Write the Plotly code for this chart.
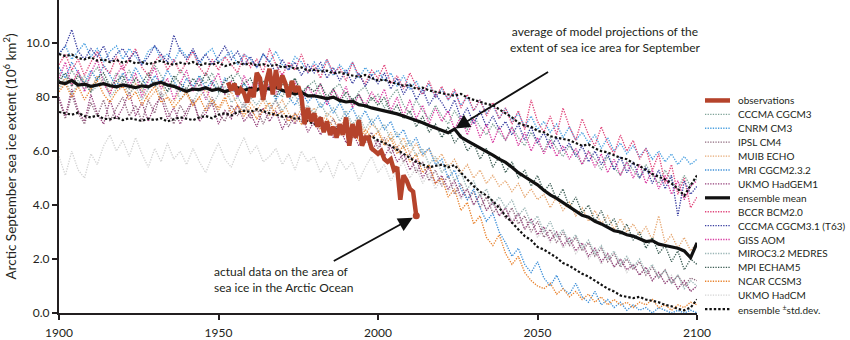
import plotly.graph_objects as go

# ---------------- data ----------------
model_years = list(range(1900, 2101, 2))

cccma_cgcm3 = [8.9, 8.5, 9.0, 8.6, 8.3, 8.8, 9.1, 8.7, 8.4, 8.9,
               8.6, 9.0, 8.5, 8.2, 8.7, 9.2, 8.8, 8.4, 8.6, 9.0,
               8.7, 8.3, 8.8, 8.5, 8.9, 8.4, 8.1, 8.6, 8.9, 8.5,
               8.2, 8.7, 8.4, 8.8, 8.3, 8.0, 8.5, 8.7, 8.2, 8.4,
               8.6, 8.1, 7.8, 8.3, 8.5, 8.0, 7.7, 8.2, 8.4, 7.9,
               8.1, 7.6, 8.0, 8.3, 7.7, 7.4, 7.9, 7.5, 7.2, 7.7,
               7.3, 7.0, 7.5, 7.1, 6.8, 7.3, 6.9, 6.6, 7.0, 6.7,
               6.4, 6.9, 6.5, 6.2, 6.7, 6.3, 6.0, 6.5, 6.1, 5.8,
               6.2, 5.9, 5.5, 6.0, 5.7, 5.3, 5.8, 5.4, 5.1, 5.6,
               5.3, 5.0, 5.5, 5.1, 4.8, 5.3, 4.9, 4.6, 5.1, 4.7,
               5.0]
cnrm_cm3 = [9.6, 9.9, 9.4, 9.7, 10.0, 9.5, 9.8, 9.3, 9.7, 9.9,
            9.4, 9.8, 9.5, 9.2, 9.7, 9.9, 9.4, 9.6, 9.3, 9.8,
            9.5, 9.7, 9.2, 9.6, 9.8, 9.3, 9.5, 9.7, 9.2, 9.6,
            9.4, 9.1, 9.6, 9.3, 9.7, 9.2, 9.0, 9.5, 9.3, 8.9,
            9.3, 9.0, 9.4, 8.8, 9.2, 8.9, 9.3, 8.7, 9.1, 8.8,
            9.0, 8.6, 8.9, 8.4, 8.8, 8.3, 8.6, 8.1, 8.5, 8.0,
            8.3, 7.9, 8.2, 7.7, 8.0, 7.5, 7.9, 7.4, 7.7, 7.2,
            7.6, 7.1, 7.4, 6.9, 7.3, 6.8, 7.1, 6.7, 7.0, 6.5,
            6.9, 6.4, 6.7, 6.3, 6.6, 6.1, 6.5, 6.0, 6.3, 5.9,
            6.2, 5.8, 6.1, 5.7, 6.0, 5.6, 5.9, 5.5, 5.8, 5.5,
            5.7]
ipsl_cm4 = [7.9, 7.2, 8.1, 7.4, 7.0, 7.8, 7.3, 7.9, 7.1, 7.6,
            8.0, 7.3, 7.7, 7.1, 7.9, 7.4, 8.2, 7.5, 7.0, 7.7,
            7.3, 7.9, 7.2, 7.6, 8.0, 7.4, 7.1, 7.7, 7.3, 7.8,
            7.2, 7.6, 7.0, 7.5, 7.9, 7.3, 6.9, 7.4, 7.1, 7.6,
            7.0, 7.3, 6.8, 7.2, 6.6, 7.0, 6.5, 6.9, 6.3, 6.7,
            6.1, 6.5, 5.9, 6.2, 5.6, 5.9, 5.2, 5.6, 4.9, 5.3,
            4.7, 5.1, 4.4, 4.8, 4.2, 4.5, 3.9, 4.3, 3.7, 4.0,
            3.5, 3.9, 3.3, 3.6, 3.0, 3.4, 2.8, 3.1, 2.6, 3.0,
            2.5, 2.8, 2.3, 2.6, 2.1, 2.4, 1.9, 2.2, 1.7, 2.0,
            1.6, 1.9, 1.4, 1.7, 1.3, 1.6, 1.1, 1.4, 1.0, 1.3,
            1.2]
muib_echo = [8.4, 8.7, 8.5, 8.9, 8.6, 8.3, 8.8, 8.5, 8.2, 8.6,
             8.4, 8.1, 8.5, 8.3, 7.9, 8.2, 8.5, 8.0, 7.8, 8.3,
             8.1, 7.7, 8.0, 8.3, 7.8, 7.5, 7.9, 8.2, 7.7, 7.4,
             7.8, 7.5, 7.9, 7.3, 7.6, 7.9, 7.4, 7.1, 7.6, 7.3,
             7.6, 7.0, 7.4, 7.2, 6.8, 7.3, 6.9, 7.2, 6.6, 7.0,
             6.8, 6.3, 6.7, 6.1, 6.5, 5.9, 6.3, 5.8, 6.1, 5.6,
             5.9, 5.4, 5.7, 5.2, 5.5, 5.0, 5.3, 4.8, 5.1, 4.7,
             4.9, 4.5, 4.8, 4.3, 4.6, 4.2, 4.4, 3.9, 4.3, 3.8,
             4.1, 3.6, 3.9, 3.4, 3.8, 3.3, 3.6, 3.1, 3.5, 3.0,
             3.3, 2.9, 3.2, 2.7, 3.6, 2.6, 2.9, 2.4, 2.8, 2.3,
             2.6]
mri_cgcm232 = [9.1, 8.7, 9.3, 8.9, 8.5, 9.0, 8.6, 9.2, 8.8, 8.4,
               8.9, 8.6, 9.1, 8.7, 8.3, 8.8, 8.5, 9.0, 8.6, 8.2,
               8.7, 8.4, 8.8, 8.3, 8.6, 8.2, 8.7, 8.4, 8.0, 8.5,
               8.2, 8.6, 8.1, 8.4, 7.9, 8.3, 8.0, 7.7, 8.2, 7.8,
               8.1, 7.6, 7.9, 7.4, 7.8, 7.3, 7.6, 7.1, 7.5, 7.0,
               7.3, 6.8, 7.1, 6.5, 6.8, 6.2, 6.5, 5.9, 6.1, 5.5,
               5.7, 5.0, 5.3, 4.6, 4.2, 4.6, 3.9, 3.4, 3.7, 3.0,
               2.6, 2.1, 2.4, 1.8, 1.5, 1.9, 1.3, 1.0, 1.4, 0.9,
               0.7, 1.1, 0.6, 0.4, 0.8, 0.3, 0.5, 0.2, 0.4, 0.1,
               0.3, 0.1, 0.2, 0.0, 0.2, 0.1, 0.0, 0.1, 0.0, 0.1,
               0.0]
ukmo_hadgem1 = [8.0, 7.3, 8.3, 7.5, 7.1, 8.1, 7.4, 7.0, 7.9, 7.2,
                7.6, 8.2, 7.3, 7.8, 7.1, 7.7, 8.0, 7.2, 7.6, 7.0,
                7.5, 7.9, 7.1, 7.4, 7.8, 7.0, 7.5, 7.2, 7.7, 7.1,
                7.4, 6.9, 7.6, 7.1, 7.5, 6.8, 7.3, 7.0, 7.4, 6.7,
                7.1, 6.6, 7.0, 6.5, 6.9, 6.3, 6.7, 6.2, 6.6, 6.0,
                6.4, 5.8, 6.2, 5.6, 5.9, 5.3, 5.7, 5.0, 5.4, 4.8,
                5.1, 4.6, 4.9, 4.3, 4.6, 4.0, 4.4, 3.8, 4.1, 3.6,
                3.9, 3.3, 3.7, 3.1, 3.5, 2.9, 3.2, 2.7, 3.0, 2.5,
                2.8, 2.3, 2.6, 2.1, 2.4, 1.9, 2.2, 1.7, 2.0, 1.6,
                1.8, 1.4, 1.7, 1.2, 1.5, 1.1, 1.3, 0.9, 1.2, 0.8,
                1.0]
bccr_bcm20 = [9.2, 9.6, 9.0, 9.4, 8.8, 9.3, 9.7, 9.1, 8.9, 9.5,
              9.0, 9.4, 9.8, 9.1, 8.8, 9.3, 9.6, 9.0, 9.4, 8.9,
              9.3, 9.7, 9.1, 8.8, 9.4, 9.0, 9.5, 9.2, 8.9, 9.6,
              9.1, 9.4, 8.9, 9.8, 9.2, 8.8, 9.3, 9.0, 9.6, 8.9,
              9.2, 8.7, 9.4, 8.9, 9.1, 8.6, 9.3, 8.8, 8.5, 9.0,
              8.7, 9.2, 8.5, 8.8, 8.3, 8.9, 8.4, 8.1, 8.6, 8.0,
              8.4, 7.9, 8.3, 7.6, 8.1, 7.5, 7.9, 7.3, 7.8, 7.2,
              7.6, 7.0, 7.5, 6.8, 7.9, 7.1, 6.7, 7.3, 6.6, 7.6,
              6.9, 6.4, 7.2, 6.6, 6.2, 6.9, 6.3, 5.9, 6.6, 6.0,
              6.4, 5.7, 6.1, 5.3, 5.9, 4.8, 5.5, 4.4, 5.0, 3.9,
              4.3]
cccma_t63 = [9.6, 9.9, 10.5, 9.7, 9.4, 9.8, 9.5, 9.9, 9.3, 9.6,
             9.8, 9.4, 9.7, 9.2, 9.5, 9.9, 9.6, 9.3, 10.3, 9.7,
             9.4, 9.8, 9.3, 9.6, 9.2, 9.5, 9.9, 9.4, 9.7, 9.2,
             9.5, 9.1, 9.6, 9.3, 8.9, 9.4, 9.0, 9.3, 8.8, 9.2,
             8.9, 9.3, 8.7, 9.1, 8.6, 9.0, 8.5, 8.9, 8.4, 8.8,
             8.5, 8.9, 8.3, 8.7, 8.1, 8.5, 7.9, 8.3, 7.7, 8.1,
             7.8, 7.4, 7.9, 7.2, 7.6, 7.0, 7.5, 6.9, 7.3, 6.8,
             7.1, 6.6, 7.0, 6.4, 6.9, 6.3, 6.7, 6.1, 6.5, 6.0,
             6.3, 5.8, 6.2, 5.6, 6.0, 5.5, 5.9, 5.3, 5.8, 5.2,
             5.6, 5.0, 5.4, 4.8, 5.3, 4.6, 5.1, 3.6, 4.9, 4.4,
             4.7]
giss_aom = [8.7, 9.3, 8.4, 9.0, 8.2, 8.9, 9.4, 8.5, 8.1, 8.8,
            9.2, 8.4, 8.9, 8.0, 8.6, 9.1, 8.3, 8.7, 7.9, 8.5,
            9.0, 8.2, 8.7, 7.9, 8.5, 8.9, 8.1, 8.6, 8.0, 8.8,
            8.3, 8.7, 7.9, 8.5, 8.1, 8.9, 8.2, 8.6, 7.8, 8.4,
            8.0, 8.5, 7.7, 8.3, 7.9, 8.4, 7.6, 8.1, 7.7, 8.2,
            7.8, 8.3, 7.5, 8.0, 7.3, 7.9, 7.2, 7.7, 7.0, 7.6,
            7.1, 7.5, 6.8, 7.3, 6.6, 7.2, 6.5, 7.0, 6.3, 6.9,
            6.4, 6.9, 6.2, 6.7, 6.0, 6.5, 5.9, 6.4, 5.8, 6.2,
            5.7, 6.1, 5.5, 6.0, 5.4, 5.9, 5.2, 5.7, 5.1, 5.6,
            5.0, 5.5, 4.8, 5.3, 4.6, 5.1, 4.4, 4.9, 4.2, 4.7,
            4.9]
miroc32_medres = [8.3, 8.6, 8.1, 8.5, 8.8, 8.2, 8.4, 8.7, 8.0, 8.3,
                  8.6, 8.1, 8.4, 7.9, 8.3, 8.6, 8.0, 8.2, 8.5, 7.9,
                  8.2, 7.8, 8.3, 8.0, 7.7, 8.1, 8.4, 7.8, 8.0, 7.6,
                  8.0, 7.7, 8.1, 7.6, 7.9, 7.5, 7.8, 8.1, 7.5, 7.7,
                  7.4, 7.8, 7.3, 7.6, 7.1, 7.5, 7.0, 7.3, 6.8, 7.2,
                  6.7, 7.0, 6.4, 6.7, 6.1, 6.4, 5.8, 6.1, 5.5, 5.8,
                  5.2, 5.5, 4.9, 5.2, 4.6, 4.9, 4.3, 4.6, 4.0, 4.3,
                  3.9, 4.2, 3.6, 3.9, 3.3, 3.6, 3.0, 3.4, 2.8, 3.1,
                  2.6, 2.9, 2.4, 2.7, 2.2, 2.5, 2.0, 2.3, 1.8, 2.1,
                  1.7, 2.0, 1.5, 1.8, 1.3, 1.6, 1.1, 1.4, 0.9, 1.2,
                  1.0]
mpi_echam5 = [8.6, 8.9, 8.4, 8.8, 8.5, 8.2, 8.7, 8.9, 8.4, 8.6,
              8.8, 8.3, 8.7, 8.5, 8.9, 8.4, 8.6, 8.2, 8.8, 8.5,
              8.3, 8.7, 8.4, 8.9, 8.5, 8.2, 8.6, 8.8, 8.3, 8.5,
              8.7, 8.2, 8.6, 8.4, 8.0, 8.5, 8.3, 8.7, 8.1, 8.4,
              8.2, 8.5, 8.0, 8.3, 7.8, 8.2, 7.9, 8.1, 7.6, 8.0,
              7.7, 8.0, 7.4, 7.7, 7.2, 7.5, 6.9, 7.3, 6.7, 7.0,
              6.5, 6.9, 6.3, 6.6, 6.0, 6.3, 5.7, 6.1, 5.4, 5.8,
              5.2, 5.6, 5.0, 5.3, 4.7, 5.1, 4.5, 4.8, 4.2, 4.6,
              3.9, 4.3, 3.7, 4.0, 3.4, 3.8, 3.2, 3.5, 2.9, 3.3,
              2.7, 3.0, 2.4, 2.8, 2.2, 2.5, 1.9, 2.3, 1.6, 2.0,
              1.8]
ncar_ccsm3 = [8.2, 8.5, 8.0, 8.4, 7.9, 8.3, 8.6, 8.1, 7.8, 8.2,
              8.4, 7.9, 8.2, 7.7, 8.1, 8.4, 7.8, 8.0, 7.6, 7.9,
              8.2, 7.7, 8.0, 7.5, 7.9, 7.6, 8.0, 7.4, 7.7, 7.3,
              7.6, 7.2, 7.5, 7.8, 7.3, 7.5, 7.1, 7.4, 7.0, 7.3,
              7.1, 6.8, 7.2, 6.9, 6.6, 7.0, 6.7, 6.4, 6.8, 6.5,
              6.7, 6.2, 6.5, 5.9, 6.2, 5.6, 5.9, 5.2, 5.5, 4.8,
              5.0, 4.3, 4.6, 3.8, 4.1, 3.3, 3.6, 2.8, 2.5, 2.9,
              2.2, 1.8, 2.1, 1.5, 1.2, 1.0, 0.9, 1.1, 0.7, 0.9,
              0.6, 0.8, 0.5, 0.7, 0.4, 0.6, 0.3, 0.5, 0.3, 0.4,
              0.2, 0.4, 0.3, 0.5, 0.2, 0.3, 0.1, 0.3, 0.2, 0.4,
              0.3]
ukmo_hadcm = [5.8, 5.1, 6.0, 5.3, 5.0, 5.9, 5.5, 6.2, 6.6, 6.0,
              6.4, 5.8, 6.5, 5.9, 5.4, 6.1, 5.6, 6.3, 5.7, 6.0,
              5.5, 6.1, 5.6, 5.2, 5.8, 6.3, 5.7, 5.4, 6.0, 6.5,
              5.9, 6.2, 5.6, 5.8, 6.1, 5.5, 5.9, 5.3, 6.0, 5.6,
              5.8, 5.2, 5.6, 5.0, 5.7, 5.3, 5.6, 4.9, 5.4, 5.8,
              5.2, 5.5, 4.9, 5.3, 5.6, 5.0, 5.4, 4.8, 5.2, 4.6,
              5.0, 4.5, 4.8, 4.2, 4.6, 4.0, 4.4, 3.8, 4.2, 3.6,
              3.9, 3.4, 3.7, 3.1, 3.4, 2.8, 3.1, 2.6, 3.0, 2.4,
              2.7, 2.2, 2.5, 2.0, 2.3, 1.8, 2.2, 1.7, 2.0, 1.5,
              1.8, 1.4, 1.7, 1.2, 1.5, 1.1, 1.4, 0.9, 1.2, 0.8,
              1.0]

ensemble_mean = [8.55, 8.50, 8.62, 8.45, 8.48, 8.40, 8.45, 8.50, 8.42, 8.38,
                 8.45, 8.40, 8.35, 8.42, 8.38, 8.50, 8.55, 8.45, 8.40, 8.30,
                 8.22, 8.30, 8.28, 8.35, 8.25, 8.30, 8.20, 8.28, 8.35, 8.25,
                 8.32, 8.28, 8.35, 8.30, 8.38, 8.25, 8.20, 8.12, 8.18, 8.05,
                 8.05, 8.00, 7.95, 8.00, 7.88, 7.82, 7.85, 7.72, 7.68, 7.60,
                 7.55, 7.50, 7.45, 7.38, 7.30, 7.22, 7.15, 7.05, 6.95, 6.85,
                 6.78, 6.68, 6.82, 6.52, 6.38, 6.25, 6.12, 6.00, 5.85, 5.70,
                 5.58, 5.40, 5.20, 5.05, 4.90, 4.75, 4.55, 4.38, 4.25, 4.10,
                 3.95, 3.80, 3.62, 3.55, 3.40, 3.30, 3.18, 3.05, 3.00, 2.90,
                 2.85, 2.75, 2.65, 2.68, 2.55, 2.50, 2.45, 2.40, 2.30, 2.05,
                 2.60]
ensemble_upper = [9.60, 9.52, 9.58, 9.45, 9.40, 9.48, 9.35, 9.40, 9.30, 9.38,
                  9.28, 9.35, 9.25, 9.30, 9.22, 9.28, 9.35, 9.25, 9.20, 9.28,
                  9.22, 9.30, 9.18, 9.25, 9.20, 9.28, 9.15, 9.22, 9.30, 9.20,
                  9.25, 9.18, 9.22, 9.15, 9.20, 9.10, 9.15, 9.05, 9.10, 8.98,
                  9.02, 8.95, 8.98, 8.88, 8.92, 8.85, 8.80, 8.75, 8.82, 8.70,
                  8.62, 8.65, 8.55, 8.50, 8.42, 8.45, 8.30, 8.35, 8.25, 8.20,
                  8.15, 8.10, 8.05, 8.12, 7.98, 7.90, 7.82, 7.75, 7.70, 7.55,
                  7.40, 7.25, 7.05, 6.95, 6.90, 6.75, 6.70, 6.55, 6.50, 6.45,
                  6.40, 6.30, 6.20, 6.25, 6.10, 6.00, 5.95, 5.85, 5.75, 5.70,
                  5.55, 5.45, 5.30, 5.15, 5.05, 4.95, 4.80, 4.60, 4.35, 4.75,
                  5.10]
ensemble_lower = [7.45, 7.40, 7.35, 7.42, 7.30, 7.25, 7.32, 7.20, 7.18, 7.25,
                  7.15, 7.22, 7.18, 7.12, 7.20, 7.15, 7.22, 7.10, 7.18, 7.25,
                  7.20, 7.15, 7.25, 7.30, 7.22, 7.35, 7.40, 7.32, 7.45, 7.50,
                  7.45, 7.55, 7.48, 7.40, 7.35, 7.28, 7.30, 7.20, 7.22, 7.10,
                  7.00, 6.92, 6.95, 6.85, 6.80, 6.72, 6.65, 6.60, 6.50, 6.55,
                  6.40, 6.30, 6.20, 6.05, 5.90, 5.75, 5.60, 5.50, 5.40, 5.45,
                  5.50, 5.40, 5.48, 5.20, 4.95, 4.70, 4.50, 4.35, 4.15, 3.90,
                  3.60, 3.35, 3.10, 2.85, 2.70, 2.45, 2.35, 2.20, 2.05, 1.85,
                  1.75, 1.60, 1.45, 1.35, 1.20, 1.05, 0.90, 0.80, 0.65, 0.60,
                  0.55, 0.60, 0.50, 0.45, 0.40, 0.30, 0.25, 0.15, 0.10, 0.20,
                  0.50]

obs_years = list(range(1953, 2013))
observations = [8.55, 8.25, 8.50, 8.10, 8.30, 8.15, 7.80, 8.30, 8.00, 8.90,
                8.70, 7.90, 8.60, 9.05, 8.10, 9.00, 8.30, 8.80, 8.50, 8.00,
                8.60, 8.20, 8.40, 8.00, 7.00, 7.60, 7.10, 7.40, 6.90, 7.25,
                6.70, 7.10, 6.60, 6.90, 6.50, 7.00, 6.60, 7.25, 6.20, 7.00,
                6.50, 7.15, 6.20, 6.50, 6.50, 6.10, 6.00, 5.90, 6.00, 5.70,
                5.60, 5.70, 5.30, 5.40, 4.20, 5.10, 4.90, 4.60, 4.50, 3.60]

x_ticks = [1900, 1950, 2000, 2050, 2100]
y_ticks = [0, 2, 4, 6, 8, 10]
y_ticktext = ["0.0", "2.0", "4.0", "6.0", "80", "10.0"]

# ---------------- styles ----------------
FONT = "Lato"
TXT = "#231f20"
OBS_C = "#b5432b"

models = [
    ("CCCMA CGCM3", cccma_cgcm3, "#7fa398"),
    ("CNRM CM3", cnrm_cm3, "#4aa0e0"),
    ("IPSL CM4", ipsl_cm4, "#8e6a7e"),
    ("MUIB ECHO", muib_echo, "#e6a873"),
    ("MRI CGCM2.3.2", mri_cgcm232, "#3d8fd8"),
    ("UKMO HadGEM1", ukmo_hadgem1, "#933e78"),
    ("BCCR BCM2.0", bccr_bcm20, "#e0457a"),
    ("CCCMA CGCM3.1 (T63)", cccma_t63, "#3a3fa0"),
    ("GISS AOM", giss_aom, "#d83aa0"),
    ("MIROC3.2 MEDRES", miroc32_medres, "#9ab5b5"),
    ("MPI ECHAM5", mpi_echam5, "#3d5e55"),
    ("NCAR CCSM3", ncar_ccsm3, "#e8832e"),
    ("UKMO HadCM", ukmo_hadcm, "#d4d4d4"),
]
for name, vals, _ in models:
    assert len(vals) == len(model_years), name
for arr in (ensemble_mean, ensemble_upper, ensemble_lower):
    assert len(arr) == len(model_years)
assert len(observations) == len(obs_years)

MODEL_DASH = "1.3px,1.3px"
STD_DASH = "2.4px,2px"

fig = go.Figure()
draw_order = [m for m in models if m[0] == "UKMO HadCM"] + [m for m in models if m[0] != "UKMO HadCM"]
for name, vals, col in draw_order:
    fig.add_trace(go.Scatter(x=model_years, y=vals, mode="lines", name=name,
                             line=dict(color=col, width=1.35, dash=MODEL_DASH),
                             showlegend=False, hoverinfo="skip"))
for arr in (ensemble_upper, ensemble_lower):
    fig.add_trace(go.Scatter(x=model_years, y=arr, mode="lines", name="ensemble ±std.dev.",
                             line=dict(color="#111111", width=2.2, dash=STD_DASH),
                             showlegend=False))
fig.add_trace(go.Scatter(x=model_years, y=ensemble_mean, mode="lines", name="ensemble mean",
                         line=dict(color="#111111", width=3.2), showlegend=False))
fig.add_trace(go.Scatter(x=obs_years, y=observations, mode="lines", name="observations",
                         line=dict(color=OBS_C, width=4.5, shape="linear"), showlegend=False))
fig.add_trace(go.Scatter(x=[obs_years[-1]], y=[observations[-1]], mode="markers",
                         marker=dict(color=OBS_C, size=7), showlegend=False))

# ---------------- layout ----------------
W, H = 850, 340
ML, MR, MT, MB = 59, 153, 0, 20
PW, PH = W - ML - MR, H - MT - MB

def px_x(p):
    return (p - ML) / PW

def px_y(p):
    return 1 - (p - MT) / PH

annotations = []
shapes = []

# arrows
mean_idx = model_years.index(2024)
annotations.append(dict(x=2024, y=ensemble_mean[mean_idx], xref="x", yref="y",
                        ax=95, ay=-58, text="", showarrow=True, arrowhead=2,
                        arrowsize=1.6, arrowwidth=1.8, arrowcolor="#111111", standoff=1))
annotations.append(dict(x=obs_years[-1], y=observations[-1], xref="x", yref="y",
                        ax=-84, ay=46, text="", showarrow=True, arrowhead=2,
                        arrowsize=1.6, arrowwidth=1.8, arrowcolor="#111111", standoff=4))
annotations.append(dict(x=px_x(605), y=px_y(40), xref="paper", yref="paper",
                        text="average of model projections of the<br>extent of sea ice area for September",
                        showarrow=False, xanchor="center", yanchor="middle", align="center",
                        font=dict(family=FONT, size=12, color=TXT)))
annotations.append(dict(x=px_x(212), y=px_y(286), xref="paper", yref="paper",
                        text="actual data on the area of<br>sea ice in the Arctic Ocean",
                        showarrow=False, xanchor="left", yanchor="middle", align="left",
                        font=dict(family=FONT, size=12, color=TXT)))

# custom compact legend
legend_items = [("observations", dict(color=OBS_C, width=4.5))]
legend_items += [(n, dict(color=c, width=1.35, dash=MODEL_DASH)) for n, _, c in models[:6]]
legend_items += [("ensemble mean", dict(color="#111111", width=3.2))]
legend_items += [(n, dict(color=c, width=1.35, dash=MODEL_DASH)) for n, _, c in models[6:]]
legend_items += [("ensemble <sup>±</sup>std.dev.", dict(color="#111111", width=2.2, dash=STD_DASH))]

LEG_Y0, LEG_DY = 102.7, 14.22
for i, (label, line) in enumerate(legend_items):
    yy = px_y(LEG_Y0 + i * LEG_DY)
    shapes.append(dict(type="line", xref="paper", yref="paper",
                       x0=px_x(705), x1=px_x(730), y0=yy, y1=yy, line=line))
    annotations.append(dict(x=px_x(736), y=yy, xref="paper", yref="paper", text=label,
                            showarrow=False, xanchor="left", yanchor="middle",
                            font=dict(family=FONT, size=10, color=TXT)))

fig.update_layout(
    width=W, height=H,
    margin=dict(l=ML, r=MR, t=MT, b=MB),
    paper_bgcolor="white", plot_bgcolor="white",
    font=dict(family=FONT, color=TXT),
    showlegend=False,
    annotations=annotations,
    shapes=shapes,
    xaxis=dict(range=[1900, 2100], tickvals=x_ticks, ticks="outside", ticklen=5,
               tickwidth=1.5, tickcolor="#231f20", showline=True, linewidth=2,
               linecolor="#231f20", showgrid=False, zeroline=False, ticklabelstandoff=3,
               tickfont=dict(family=FONT, size=12, color=TXT)),
    yaxis=dict(range=[0, 11.6], tickvals=y_ticks, ticktext=y_ticktext, ticks="outside",
               ticklen=5, tickwidth=1.5, tickcolor="#231f20", showline=True, linewidth=2,
               linecolor="#231f20", showgrid=False, zeroline=False,
               tickfont=dict(family=FONT, size=12, color=TXT),
               title=dict(text="Arctic September sea ice extent (10<sup>6</sup> km<sup>2</sup>)",
                          font=dict(family=FONT, size=13.5, color=TXT), standoff=6)),
)

fig.write_html("out.html")
